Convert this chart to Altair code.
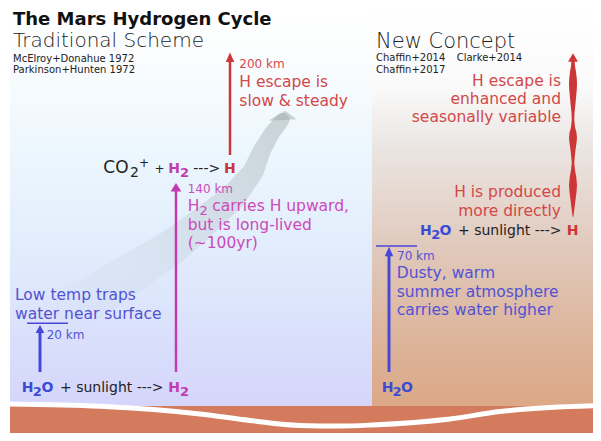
import altair as alt
import pandas as pd

FONT = "DejaVu Sans"

# ---------------- data ----------------
# background panels (image coordinates, y grows downward)
panel_x0 = [10, 372]
panel_x1 = [372, 601]
panel_y0 = [8, 8]
panel_y1 = [406, 406]

ground_x0 = [10]
ground_x1 = [601]
ground_y0 = [406]
ground_y1 = [441]

horizon_x = [10, 100, 200, 250, 300, 340, 372, 450, 500, 550, 601]
horizon_y = [404, 406.3, 414, 420.5, 425.5, 426, 425, 419, 411.5, 407.5, 405.5]

# broad grey curved arrow (centre line and width)
gray_x = [282.5, 272, 262, 253, 232, 200, 168, 131, 95, 60]
gray_y = [120, 133, 150, 172, 198, 225, 250, 273, 296, 318]
gray_w = [14, 16, 18, 21, 26, 31, 36, 40, 43, 46]

# wavy red escape arrow (new concept)
wave_y = [62, 66, 72, 78, 84, 90, 98, 106, 113, 120, 127, 133, 138, 143, 150,
          157, 163, 170, 177, 185, 192, 200, 208, 214, 217]
wave_w = [3.5, 4, 6, 7.5, 8, 7.5, 6, 4.5, 3, 2.5, 4, 7, 8, 7, 5,
          3.5, 2.5, 4, 6.5, 8, 7, 5, 3, 1.5, 0.5]
wave_xpos = 573

# straight arrows / bars
rule_x = [230, 176, 40, 389, 27, 376]
rule_x2 = [230, 176, 40, 389, 68, 417]
rule_y = [62, 191, 332, 256, 323.3, 246]
rule_y2 = [155, 372, 372, 372, 323.3, 246]
rule_w = [2.5, 2.5, 3, 3, 1.5, 1.5]
rule_c = ["#cc3636", "#c23cb0", "#4848d8", "#4848d8", "#4848d8", "#4848d8"]

RED = "#cc3636"
REDT = "#d24848"
MAG = "#c23cb0"
MAGT = "#cc4ab8"
BLU = "#4848d8"
BLUT = "#5252d4"
BLUB = "#3a4cd6"
BLK = "#222222"
GRAY = "rgba(160,170,174,0.5)"

head_x = [230, 176, 40, 389, 573, 282.5]
head_y = [57.5, 187.5, 329, 251.5, 57.5, 116]
head_size = [100, 81, 64, 88, 74, 400]
head_shape = ["M0,-1L0.85,0.9L-0.85,0.9Z", "M0,-1L1.2,0.9L-1.2,0.9Z",
              "M0,-1L1.1,1L-1.1,1Z", "M0,-1L0.9,1L-0.9,1Z",
              "M0,-1L1.15,1L-1.15,1Z", "M0.25,-0.53L-1.42,0.47L1.42,0.33Z"]
head_c = [RED, MAG, BLU, BLU, RED, GRAY]

# texts: (text, x, y-baseline, size, colour, weight, align)
texts = [
    ("The Mars Hydrogen Cycle", 13, 24.5, 18, "#111111", "bold", "left"),
    ("Traditional Scheme", 13, 47, 20, BLK, 200, "left"),
    ("McElroy+Donahue 1972", 13, 61.5, 10, BLK, "normal", "left"),
    ("Parkinson+Hunten 1972", 13, 73, 10, BLK, "normal", "left"),
    ("New Concept", 376, 48, 21, BLK, 200, "left"),
    ("Chaffin+2014", 376, 60.7, 10, BLK, "normal", "left"),
    ("Clarke+2014", 456.7, 60.7, 10, BLK, "normal", "left"),
    ("Chaffin+2017", 376, 72.7, 10, BLK, "normal", "left"),
    # CO2+ + H2 ---> H
    ("CO", 103.3, 173.3, 17, BLK, "normal", "left"),
    ("2", 130, 177, 14, BLK, "normal", "left"),
    ("+", 139, 166.5, 12, BLK, "normal", "left"),
    ("+", 154.5, 173.3, 12, BLK, "normal", "left"),
    ("H", 168.3, 173.3, 14, MAG, "bold", "left"),
    ("2", 180, 176.5, 13, MAG, "bold", "left"),
    ("--->", 193.3, 173.3, 14, BLK, "normal", "left"),
    ("H", 224, 173.3, 14, RED, "bold", "left"),
    # traditional escape
    ("200 km", 239.3, 68, 12, REDT, "normal", "left"),
    ("H escape is", 239.3, 87, 15.5, REDT, "normal", "left"),
    ("slow & steady", 239.3, 106, 15.5, REDT, "normal", "left"),
    # H2 transport
    ("140 km", 187.7, 193.3, 12, MAGT, "normal", "left"),
    ("H", 187.7, 211, 15.5, MAGT, "normal", "left"),
    ("2", 199.5, 214.5, 13, MAGT, "normal", "left"),
    ("carries H upward,", 212.3, 211, 15.5, MAGT, "normal", "left"),
    ("but is long-lived", 187.7, 230, 15.5, MAGT, "normal", "left"),
    ("(~100yr)", 187.7, 248.3, 15.5, MAGT, "normal", "left"),
    # cold trap
    ("Low temp traps", 15, 300, 15.5, BLUT, "normal", "left"),
    ("water near surface", 15, 319, 15.5, BLUT, "normal", "left"),
    ("20 km", 46.7, 339, 12, BLUT, "normal", "left"),
    # bottom left equation
    ("H", 21.7, 391.7, 14, BLUB, "bold", "left"),
    ("2", 32.7, 395.5, 13, BLUB, "bold", "left"),
    ("O", 41.5, 391.7, 14, BLUB, "bold", "left"),
    ("+ sunlight --->", 60, 391.7, 14, BLK, "normal", "left"),
    ("H", 168.3, 391.7, 14, MAG, "bold", "left"),
    ("2", 180, 395.5, 13, MAG, "bold", "left"),
    # new concept
    ("H escape is", 561, 86, 15.5, REDT, "normal", "right"),
    ("enhanced and", 561, 104, 15.5, REDT, "normal", "right"),
    ("seasonally variable", 561, 122.3, 15.5, REDT, "normal", "right"),
    ("H is produced", 561, 196.7, 15.5, REDT, "normal", "right"),
    ("more directly", 561, 215.7, 15.5, REDT, "normal", "right"),
    ("H", 420, 235, 14, BLUB, "bold", "left"),
    ("2", 431.3, 238.5, 13, BLUB, "bold", "left"),
    ("O", 439.5, 235, 14, BLUB, "bold", "left"),
    ("+ sunlight --->", 458, 235, 14, BLK, "normal", "left"),
    ("H", 566.7, 235, 14, RED, "bold", "left"),
    ("70 km", 397, 260, 12, BLUT, "normal", "left"),
    ("Dusty, warm", 396.7, 278, 15.5, BLUT, "normal", "left"),
    ("summer atmosphere", 396.7, 296.7, 15.5, BLUT, "normal", "left"),
    ("carries water higher", 396.7, 315, 15.5, BLUT, "normal", "left"),
    ("H", 381.7, 391.7, 14, BLUB, "bold", "left"),
    ("2", 392.5, 395.5, 13, BLUB, "bold", "left"),
    ("O", 401, 391.7, 14, BLUB, "bold", "left"),
]

# ---------------- scales ----------------
W, H = 585, 425
XS = alt.Scale(domain=[8, 8 + W], nice=False, zero=False)
YS = alt.Scale(domain=[8, 8 + H], nice=False, zero=False, reverse=True)


def X(f):
    return alt.X(f"{f}:Q", scale=XS, axis=None)


def Y(f):
    return alt.Y(f"{f}:Q", scale=YS, axis=None)


def grad(stops, x1=0, y1=0, x2=0, y2=1):
    return alt.LinearGradient(
        gradient="linear", x1=x1, y1=y1, x2=x2, y2=y2,
        stops=[alt.GradientStop(color=c, offset=o) for o, c in stops])


left_bg = alt.Chart(pd.DataFrame({"x": panel_x0[:1], "x2": panel_x1[:1],
                                  "y": panel_y0[:1], "y2": panel_y1[:1]})).mark_rect(
    color=grad([(0, "#ffffff"), (0.12, "#fbfdfe"), (0.35, "#edf7fe"),
                (0.65, "#dfebfc"), (1, "#d5d5fb")])
).encode(x=X("x"), x2="x2", y=Y("y"), y2="y2")

right_bg = alt.Chart(pd.DataFrame({"x": panel_x0[1:], "x2": panel_x1[1:],
                                   "y": panel_y0[1:], "y2": panel_y1[1:]})).mark_rect(
    color=grad([(0, "#ffffff"), (0.2, "#fafafa"), (0.33, "#ece8e6"),
                (0.61, "#e0c8bb"), (0.81, "#ddb69e"), (1, "#dca886")])
).encode(x=X("x"), x2="x2", y=Y("y"), y2="y2")

ground = alt.Chart(pd.DataFrame({"x": ground_x0, "x2": ground_x1,
                                 "y": ground_y0, "y2": ground_y1})).mark_rect(
    color="#d47b5d").encode(x=X("x"), x2="x2", y=Y("y"), y2="y2")

horizon = alt.Chart(pd.DataFrame({"x": horizon_x, "y": horizon_y,
                                  "i": range(len(horizon_x))})).mark_line(
    color="white", strokeWidth=5, interpolate="monotone").encode(
    x=X("x"), y=Y("y"), order="i:Q")

gray_arrow = alt.Chart(pd.DataFrame({"x": gray_x, "y": gray_y, "w": gray_w,
                                     "i": range(len(gray_x))})).mark_trail(
    fill=grad([(0, "rgba(160,170,174,0.5)"), (0.3, "rgba(160,170,174,0.32)"),
               (0.65, "rgba(160,170,174,0.12)"), (1, "rgba(160,170,174,0.0)")],
              x1=1, y1=0, x2=0.15, y2=1)
).encode(x=X("x"), y=Y("y"), size=alt.Size("w:Q", scale=None), order="i:Q")

rules = alt.Chart(pd.DataFrame({"x": rule_x, "x2": rule_x2, "y": rule_y, "y2": rule_y2,
                                "w": rule_w, "c": rule_c})).mark_rule().encode(
    x=X("x"), x2="x2", y=Y("y"), y2="y2",
    size=alt.Size("w:Q", scale=None), color=alt.Color("c:N", scale=None))

wave = alt.Chart(pd.DataFrame({"x": [wave_xpos] * len(wave_y), "y": wave_y, "w": wave_w,
                               "i": range(len(wave_y))})).mark_trail(color=RED).encode(
    x=X("x"), y=Y("y"), size=alt.Size("w:Q", scale=None), order="i:Q")

heads = alt.Chart(pd.DataFrame({"x": head_x, "y": head_y, "s": head_size,
                                "shape": head_shape, "c": head_c})).mark_point(
    filled=True, opacity=1, strokeWidth=0).encode(
    x=X("x"), y=Y("y"), size=alt.Size("s:Q", scale=None),
    shape=alt.Shape("shape:N", scale=None), color=alt.Color("c:N", scale=None))

tdf = pd.DataFrame(texts, columns=["text", "x", "y", "size", "color", "weight", "align"])
tdf["wkey"] = tdf["weight"].astype(str)
text_layers = []
for (wk, al), sub in tdf.groupby(["wkey", "align"]):
    wt = sub["weight"].iloc[0]
    text_layers.append(
        alt.Chart(sub.drop(columns=["weight", "wkey"])).mark_text(
            align=al, baseline="alphabetic", font=FONT, fontWeight=wt).encode(
            x=X("x"), y=Y("y"), text="text:N",
            size=alt.Size("size:Q", scale=None), color=alt.Color("color:N", scale=None)))

chart = alt.layer(left_bg, right_bg, ground, horizon, gray_arrow, rules, wave, heads,
                  *text_layers).properties(
    width=W, height=H, padding=0, autosize=alt.AutoSizeParams(type="none")
).configure_view(stroke=None)

chart.save("out.html", embed_options={"renderer": "svg", "actions": False})
